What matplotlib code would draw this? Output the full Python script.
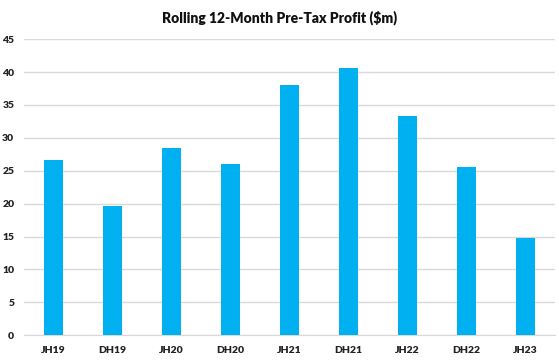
import matplotlib.pyplot as plt
import numpy as np

# data
periods = ['JH19', 'DH19', 'JH20', 'DH20', 'JH21', 'DH21', 'JH22', 'DH22', 'JH23']
profit = [26.7, 19.6, 28.4, 26.0, 38.0, 40.6, 33.3, 25.5, 14.7]
yticks = [0, 5, 10, 15, 20, 25, 30, 35, 40, 45]

plt.rcParams['font.family'] = ['Lato', 'DejaVu Sans']

fig = plt.figure(figsize=(5.59, 3.6), dpi=100)
ax = fig.add_axes([0.043, 0.069, 0.950, 0.822])

x = np.arange(len(periods))
ax.bar(x, profit, width=0.31, color='#00B0F0', zorder=3)

ax.set_xlim(-0.5, len(periods) - 0.5)
ax.set_ylim(0, 45)
ax.set_yticks(yticks)
ax.set_xticks(x)
ax.set_xticklabels(periods, fontsize=7.5, fontweight='heavy', color='#222222')
ax.set_yticklabels([str(v) for v in yticks], fontsize=7.5, fontweight='heavy', color='#222222')

ax.grid(axis='y', color='#d9d9d9', linewidth=1, zorder=0)
for side in ['top', 'right', 'left']:
    ax.spines[side].set_visible(False)
ax.spines['bottom'].set_color('#d9d9d9')
ax.tick_params(length=0, pad=8)
ax.tick_params(axis='y', pad=7)

fig.text(0.5, 0.952, 'Rolling 12-Month Pre-Tax Profit ($m)', ha='center', va='center',
         fontsize=10, fontweight='heavy', color='#111111')

fig.savefig('out.png', dpi=100)
